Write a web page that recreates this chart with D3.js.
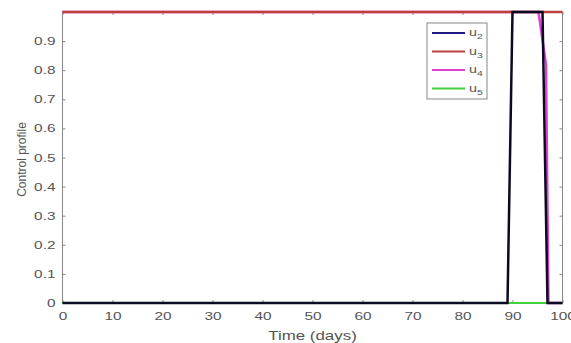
<!DOCTYPE html>
<html lang="en">
<head>
<meta charset="UTF-8">
<script src="https://d3js.org/d3.v7.min.js"></script>
<style>
  body { margin: 0; background: #fff; }
  text { font-family: "Liberation Sans", Arial, sans-serif; fill: #555; }
</style>
</head>
<body>
<div id="chart"></div>
<script>
// series data: time (days) and control value
const names = ["u2", "u3", "u4", "u5"];
const colors = ["#0a0a22", "#c04040", "#e040d0", "#40d040"];
const u2T = [0, 89, 90, 96, 97, 100];
const u2V = [0, 0, 1, 1, 0, 0];
const u3T = [0, 100];
const u3V = [1, 1];
const u4T = [0, 95.2, 96.7, 97.2, 100];
const u4V = [1, 1, 0.82, 0, 0];
const u5T = [0, 100];
const u5V = [0, 0];
const xTicks = [0, 10, 20, 30, 40, 50, 60, 70, 80, 90, 100];
const yTicks = [0, 0.1, 0.2, 0.3, 0.4, 0.5, 0.6, 0.7, 0.8, 0.9];

const W = 571, H = 343;
const mLeft = 62.5, mRight = 562.5, mTop = 12, mBottom = 303;

const svg = d3.select("#chart").append("svg")
    .attr("width", W).attr("height", H);

const x = d3.scaleLinear().domain([0, 100]).range([mLeft, mRight]);
const y = d3.scaleLinear().domain([0, 1]).range([mBottom, mTop]);

// box
svg.append("rect")
    .attr("x", mLeft).attr("y", mTop)
    .attr("width", mRight - mLeft).attr("height", mBottom - mTop)
    .attr("fill", "none").attr("stroke", "#888").attr("stroke-width", 1);

// x axis
const gx = svg.append("g")
    .attr("transform", `translate(0,${mBottom})`)
    .call(d3.axisBottom(x).tickValues(xTicks).tickSize(-3).tickPadding(9));
gx.select(".domain").remove();
gx.selectAll("line").attr("stroke", "#888");
gx.selectAll("text").attr("font-size", 11).attr("transform", "scale(1.4,1)").attr("fill", "#555");

// top ticks
svg.append("g")
    .attr("transform", `translate(0,${mTop})`)
    .call(d3.axisTop(x).tickValues(xTicks).tickSize(-3).tickFormat(""))
    .call(g => g.select(".domain").remove())
    .selectAll("line").attr("stroke", "#888");

// y axis
const gy = svg.append("g")
    .attr("transform", `translate(${mLeft},0)`)
    .call(d3.axisLeft(y).tickValues(yTicks).tickSize(-3).tickPadding(5).tickFormat(d => d === 0 ? "0" : d3.format(".1f")(d)));
gy.select(".domain").remove();
gy.selectAll("line").attr("stroke", "#888");
gy.selectAll("text").attr("font-size", 11).attr("transform", "scale(1.4,1)").attr("fill", "#555");

// right ticks
svg.append("g")
    .attr("transform", `translate(${mRight},0)`)
    .call(d3.axisRight(y).tickValues(yTicks).tickSize(-3).tickFormat(""))
    .call(g => g.select(".domain").remove())
    .selectAll("line").attr("stroke", "#888");

// lines
const line = d3.line().x(d => x(d[0])).y(d => y(d[1]));
const series = [
  { name: "u4", t: u4T, v: u4V, c: colors[2], w: 2.5 },
  { name: "u3", t: u3T, v: u3V, c: colors[1], w: 2.5 },
  { name: "u5", t: u5T, v: u5V, c: colors[3], w: 2 },
  { name: "u2", t: u2T, v: u2V, c: colors[0], w: 2.5 }
];
series.forEach(s => {
  svg.append("path")
      .datum(s.t.map((t, i) => [t, s.v[i]]))
      .attr("d", line)
      .attr("fill", "none")
      .attr("stroke", s.c)
      .attr("stroke-width", s.w);
});

// axis labels
svg.append("text")
    .attr("transform", `translate(${(mLeft + mRight) / 2},340) scale(1.3,1)`)
    .attr("text-anchor", "middle").attr("font-size", 13)
    .text("Time (days)");
svg.append("text")
    .attr("transform", `translate(26,${(mTop + mBottom) / 2 + 2}) rotate(-90)`)
    .attr("text-anchor", "middle").attr("font-size", 12)
    .text("Control profile");

// legend
const lg = svg.append("g").attr("transform", "translate(427,23)");
lg.append("rect").attr("width", 60).attr("height", 76)
    .attr("fill", "#fff").attr("stroke", "#888");
names.forEach((n, i) => {
  const yy = 10 + i * 18.5;
  lg.append("line").attr("x1", 5).attr("x2", 38).attr("y1", yy).attr("y2", yy)
      .attr("stroke", i === 0 ? "#1a1a80" : colors[i]).attr("stroke-width", 2);
  const t = lg.append("text").attr("transform", `translate(42,${yy + 3}) scale(1.3,1)`).attr("font-size", 11);
  t.append("tspan").text("u");
  t.append("tspan").attr("font-size", 8).attr("dy", 3).text(n.slice(1));
});
</script>
</body>
</html>
